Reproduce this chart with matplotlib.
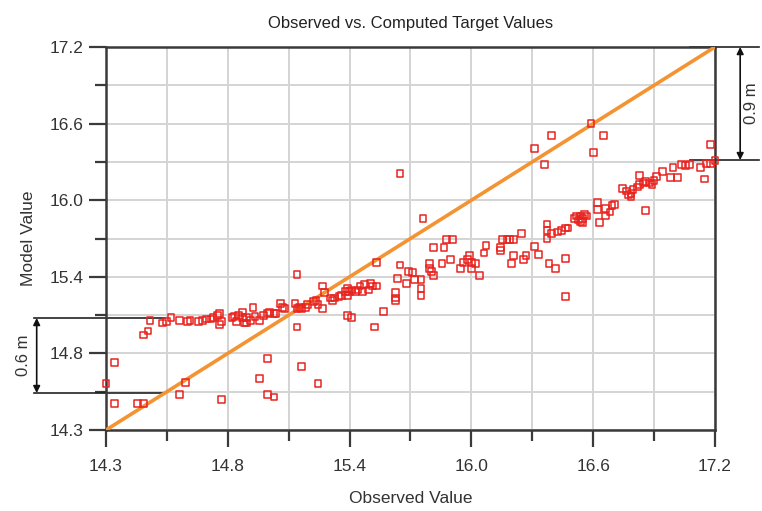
"""Observed vs. computed scatter with 1:1 line."""

import matplotlib.pyplot as plt
import numpy as np

# observed / model values
observed = [
    14.30, 14.34, 14.34, 14.45, 14.48, 14.48, 14.50, 14.51, 14.57, 14.59,
    14.61, 14.65, 14.69, 14.70, 14.74, 14.76, 14.78, 14.80, 14.81, 14.83,
    14.84, 14.84, 14.85, 14.90, 14.91, 14.92, 14.93, 14.95, 14.95, 14.96,
    14.97, 14.97, 14.99, 15.00, 15.01, 15.03, 15.05, 15.07, 15.08, 15.10,
    15.11, 15.13, 15.14, 15.15, 15.21, 15.21, 15.21, 15.23,
    15.07, 15.03, 14.68, 14.65, 14.85, 15.07, 15.10, 15.31,
    15.20, 15.22, 15.23, 15.25, 15.26, 15.29, 15.30, 15.31, 15.33, 15.33,
    15.34, 15.37, 15.38, 15.39, 15.41, 15.42, 15.44, 15.45, 15.45, 15.46,
    15.47, 15.49, 15.50, 15.51, 15.52, 15.53, 15.55, 15.56, 15.57, 15.59,
    15.59,
    15.45, 15.47, 15.58, 15.62, 15.68, 15.68, 15.68, 15.69, 15.70,
    15.73, 15.74, 15.76, 15.77, 15.80, 15.80, 15.80,
    15.84, 15.84, 15.85, 15.86, 15.90, 15.94, 15.86, 15.91, 15.92, 15.95,
    15.99, 16.00, 16.02, 16.03, 16.04, 16.06, 16.04, 16.08, 16.10, 16.11,
    16.18, 16.18, 16.19, 16.21, 16.22, 16.24, 16.24, 16.23, 16.28, 16.29,
    16.30, 16.34, 16.36, 16.40, 16.40, 16.40, 16.41, 16.44, 16.42, 16.45,
    16.47, 16.49, 16.50, 16.49, 16.49,
    16.53, 16.54, 16.55, 16.56, 16.57, 16.57, 16.58, 16.59, 16.56,
    16.64, 16.64, 16.65, 16.68, 16.68, 16.70, 16.71, 16.72,
    16.76, 16.78, 16.79, 16.80, 16.80, 16.81, 16.83, 16.84, 16.86, 16.87,
    16.89, 16.90, 16.91, 16.92, 16.84, 16.87, 16.95,
    16.99, 17.02, 17.00, 17.04, 17.06, 17.08, 17.13, 17.15, 17.16, 17.18,
    17.20, 17.18,
    15.70, 15.81, 16.34, 16.39, 16.42, 16.61, 16.67, 16.62,
]
model = [
    14.65, 14.81, 14.50, 14.50, 14.50, 15.02, 15.05, 15.13, 15.11, 15.12,
    15.15, 15.13, 15.12, 15.13, 15.12, 15.13, 15.14, 15.14, 15.15, 15.17,
    15.18, 15.10, 15.12, 15.15, 15.16, 15.12, 15.17, 15.19, 15.15, 15.11,
    15.11, 15.15, 15.13, 15.23, 15.16, 15.13, 15.17, 15.18, 15.19, 15.18,
    15.18, 15.26, 15.23, 15.22, 15.48, 15.22, 15.08, 14.78,
    14.84, 14.69, 14.66, 14.57, 14.53, 14.57, 14.55, 14.65,
    15.26, 15.23, 15.22, 15.23, 15.25, 15.27, 15.28, 15.25, 15.22, 15.39,
    15.34, 15.30, 15.28, 15.30, 15.31, 15.32, 15.35, 15.37, 15.32, 15.35,
    15.36, 15.35, 15.36, 15.39, 15.35, 15.40, 15.36, 15.41, 15.39, 15.39,
    15.57,
    15.17, 15.15, 15.08, 15.20, 15.34, 15.30, 15.28, 15.45, 15.55,
    15.41, 15.50, 15.49, 15.44, 15.44, 15.37, 15.32,
    15.56, 15.52, 15.50, 15.47, 15.56, 15.59, 15.68, 15.68, 15.74, 15.74,
    15.52, 15.57, 15.59, 15.62, 15.57, 15.56, 15.52, 15.47, 15.64, 15.70,
    15.66, 15.68, 15.74, 15.74, 15.74, 15.74, 15.62, 15.56, 15.79, 15.59,
    15.62, 15.69, 15.63, 15.86, 15.81, 15.75, 15.56, 15.52, 15.79, 15.80,
    15.81, 15.83, 15.83, 15.60, 15.31,
    15.90, 15.92, 15.89, 15.88, 15.87, 15.90, 15.93, 15.92, 15.92,
    15.97, 16.02, 15.87, 15.92, 15.98, 15.95, 16.00, 16.01,
    16.13, 16.11, 16.08, 16.07, 16.09, 16.12, 16.14, 16.16, 16.17, 16.18,
    16.17, 16.16, 16.19, 16.22, 16.23, 15.96, 16.26,
    16.21, 16.21, 16.29, 16.31, 16.30, 16.31, 16.29, 16.20, 16.32, 16.32,
    16.34, 16.46,
    16.24, 15.90, 16.43, 16.31, 16.53, 16.62, 16.53, 16.40,
]

tick_labels = ["14.3", "14.8", "15.4", "16.0", "16.6", "17.2"]
vmin, vmax = 14.3, 17.2

# dimension markers (model value levels)
low_band = (14.58, 15.148)
high_band = (16.344, 17.2)

plt.rcParams["font.family"] = ["Liberation Sans", "DejaVu Sans"]
dark = "#3a3a3a"

fig = plt.figure(figsize=(7.62, 5.11), dpi=100)
ax = fig.add_axes([0.1391, 0.1585, 0.7992, 0.7495])

major = np.linspace(vmin, vmax, 6)
minor = np.linspace(vmin, vmax, 11)

ax.set_xlim(vmin, vmax)
ax.set_ylim(vmin, vmax)
ax.set_xticks(major)
ax.set_xticklabels(tick_labels)
ax.set_yticks(major)
ax.set_yticklabels(tick_labels)
ax.set_xticks(minor, minor=True)
ax.set_yticks(minor, minor=True)

ax.grid(which="both", color="#d4d4d4", linewidth=1.4, zorder=0)
ax.set_axisbelow(True)

ax.plot([vmin, vmax], [vmin, vmax], color="#f39331", linewidth=2.6, zorder=3,
        solid_capstyle="butt")
ax.scatter(observed, model, s=24, marker="s", facecolors="none",
           edgecolors="#e8231e", linewidths=1.1, zorder=4, clip_on=False)

for s in ax.spines.values():
    s.set_color(dark)
    s.set_linewidth(1.8)

ax.tick_params(which="major", length=12, width=1.6, color=dark,
               labelsize=12.5, labelcolor="#333333")
ax.tick_params(which="minor", length=8, width=1.6, color=dark)
ax.tick_params(axis="x", which="major", pad=9)
ax.tick_params(axis="y", which="major", pad=4)

ax.set_title("Observed vs. Computed Target Values", fontsize=12, color="#222222",
             pad=14)
ax.set_xlabel("Observed Value", fontsize=12.5, color="#333333", labelpad=12)
ax.set_ylabel("Model Value", fontsize=12.5, color="#333333", labelpad=10)

# 0.6 m marker on the left
for yv in low_band:
    ax.plot([13.955, 14.58], [yv, yv], color="#222222", linewidth=1.2,
            clip_on=False, zorder=2)
ax.annotate("", xy=(13.97, low_band[0]), xytext=(13.97, low_band[1]),
            arrowprops=dict(arrowstyle="<|-|>", color="#111111", lw=1.2,
                            mutation_scale=10, shrinkA=0, shrinkB=0),
            annotation_clip=False)
ax.text(13.905, sum(low_band) / 2, "0.6 m", rotation=90, ha="center",
        va="center", fontsize=12, color="#333333")

# 0.9 m marker on the right
for yv in high_band:
    ax.plot([17.08, 17.41], [yv, yv], color="#222222", linewidth=1.2,
            clip_on=False, zorder=2)
ax.annotate("", xy=(17.32, high_band[0]), xytext=(17.32, high_band[1]),
            arrowprops=dict(arrowstyle="<|-|>", color="#111111", lw=1.2,
                            mutation_scale=10, shrinkA=0, shrinkB=0),
            annotation_clip=False)
ax.text(17.375, sum(high_band) / 2, "0.9 m", rotation=90, ha="center",
        va="center", fontsize=12, color="#333333")

fig.savefig("out.png", dpi=100)
